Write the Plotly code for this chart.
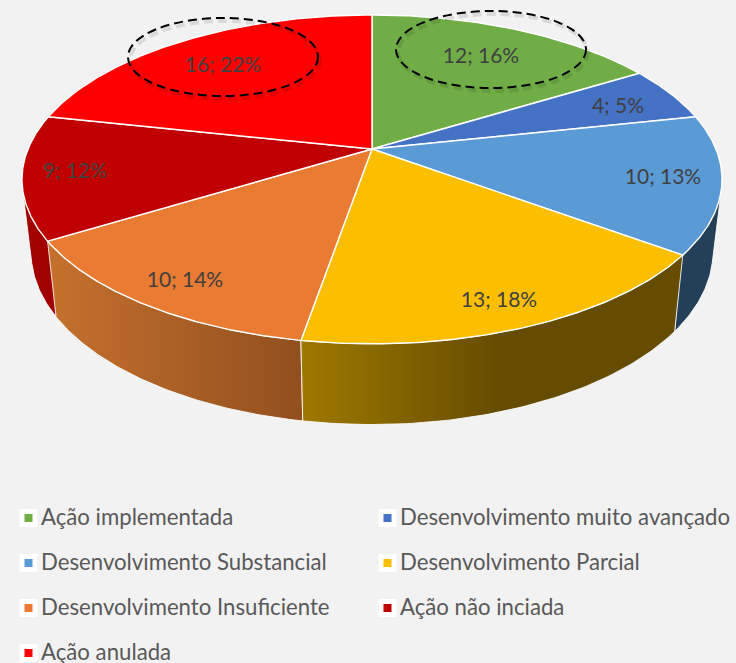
import numpy as np
import plotly.graph_objects as go

categories = ["Ação implementada", "Desenvolvimento muito avançado", "Desenvolvimento Substancial",
              "Desenvolvimento Parcial", "Desenvolvimento Insuficiente", "Ação não inciada", "Ação anulada"]
counts = [12, 4, 10, 13, 10, 9, 16]
percents = [16, 5, 13, 18, 14, 12, 22]
colors = ["#70AD47", "#4472C4", "#5B9BD5", "#FCBF00", "#EA7B32", "#C00000", "#FF0000"]
wall_left = ["#70AD47", "#4472C4", "#234058", "#9E7900", "#C6712D", "#A00000", "#FF0000"]
wall_right = ["#70AD47", "#4472C4", "#234058", "#664C00", "#914F1F", "#A00000", "#FF0000"]
label_pos = [(481, 56), (618, 106), (663, 177), (499, 300), (185, 280), (75, 171), (223, 65)]
legend_pos = [(28.5, 518), (387.5, 518), (28.5, 563), (387.5, 563), (28.5, 608), (387.5, 608), (28.5, 653)]
BG = "#F2F2F2"
FONT = "Lato"
TEXT_DY = 1.5

CX, CY = 372.0, 149.0
SX, SY, K = 344.0, 158.8, 0.185


def top_rim(t):
    X, Y = np.sin(t), np.cos(t)
    d = 1 + K * Y
    return CX + SX * X / d, CY - SY * Y / d


def bottom_rim(t):
    x, y = top_rim(t)
    return CX + 0.974 * (x - CX), 1.05 * y + 63.5


def hull(xs, ys):
    pts = sorted(set(zip(xs.tolist(), ys.tolist())))

    def half(points):
        out = []
        for p in points:
            while len(out) > 1 and ((out[-1][0] - out[-2][0]) * (p[1] - out[-2][1])
                                    - (out[-1][1] - out[-2][1]) * (p[0] - out[-2][0])) <= 0:
                out.pop()
            out.append(p)
        return out[:-1]

    ring = half(pts) + half(pts[::-1])
    ring.append(ring[0])
    return np.array([p[0] for p in ring]), np.array([p[1] for p in ring])


cum = np.concatenate([[0], np.cumsum(counts)]) / np.sum(counts) * 2 * np.pi
fig = go.Figure()

# side walls
for i in [0, 1, 6, 5, 2, 4, 3]:
    t = np.linspace(cum[i], cum[i + 1], 80)
    xt, yt = top_rim(t)
    xb, yb = bottom_rim(t)
    if i in (2, 5):
        xs, ys = hull(np.concatenate([xt, xb]), np.concatenate([yt, yb]))
    else:
        xs = np.concatenate([xt, xb[::-1], xt[:1]])
        ys = np.concatenate([yt, yb[::-1], yt[:1]])
    kw = dict(fillcolor=wall_left[i])
    if wall_left[i] != wall_right[i]:
        start = xs.min()
        stop = xs.max() if i == 4 else 500
        kw = dict(fillgradient=dict(type="horizontal", start=start, stop=stop,
                                    colorscale=[[0, wall_left[i]], [1, wall_right[i]]]))
    fig.add_trace(go.Scatter(x=xs, y=ys, mode="lines", fill="toself",
                             line=dict(color="rgba(255,255,255,0.85)", width=1),
                             hoverinfo="skip", showlegend=False, **kw))

# top faces
for i in range(len(counts)):
    t = np.linspace(cum[i], cum[i + 1], 120)
    xt, yt = top_rim(t)
    fig.add_trace(go.Scatter(x=np.concatenate([[CX], xt, [CX]]), y=np.concatenate([[CY], yt, [CY]]),
                             mode="lines", fill="toself", fillcolor=colors[i],
                             line=dict(color="white", width=1.4),
                             name=categories[i], showlegend=False, hoverinfo="name"))

# data labels
fig.add_trace(go.Scatter(x=[p[0] for p in label_pos], y=[p[1] + TEXT_DY for p in label_pos], mode="text",
                         text=[f"{c}; {p}%" for c, p in zip(counts, percents)],
                         textposition="middle center",
                         textfont=dict(family=FONT, size=21, color="#404040"),
                         hoverinfo="skip", showlegend=False))

# legend
fig.add_trace(go.Scatter(x=[p[0] for p in legend_pos], y=[p[1] for p in legend_pos], mode="markers",
                         marker=dict(symbol="square", size=18, color="white", line=dict(width=0)),
                         hoverinfo="skip", showlegend=False))
fig.add_trace(go.Scatter(x=[p[0] for p in legend_pos], y=[p[1] for p in legend_pos], mode="markers",
                         marker=dict(symbol="square", size=8, color=colors, line=dict(width=0)),
                         hoverinfo="skip", showlegend=False))
fig.add_trace(go.Scatter(x=[p[0] + 12.5 for p in legend_pos], y=[p[1] + TEXT_DY for p in legend_pos], mode="text",
                         text=categories, textposition="middle right",
                         textfont=dict(family=FONT, size=22.2, color="#595959"),
                         hoverinfo="skip", showlegend=False))

# dashed call-out ellipses
shapes = []
for cx, cy, a, b in [(223, 57, 95, 39), (491, 49.5, 95, 38.5)]:
    shapes.append(dict(type="circle", xref="x", yref="y", x0=cx - a + 2, x1=cx + a + 2, y0=cy - b + 3, y1=cy + b + 3,
                       line=dict(color="rgba(0,0,0,0.10)", width=4, dash="9px,5px"), layer="above"))
    shapes.append(dict(type="circle", xref="x", yref="y", x0=cx - a, x1=cx + a, y0=cy - b, y1=cy + b,
                       line=dict(color="black", width=2, dash="9px,5px"), layer="above"))

fig.update_layout(width=736, height=663, margin=dict(l=0, r=0, t=0, b=0, pad=0),
                  paper_bgcolor=BG, plot_bgcolor=BG, shapes=shapes, showlegend=False,
                  xaxis=dict(range=[0, 736], visible=False, fixedrange=True),
                  yaxis=dict(range=[663, 0], visible=False, fixedrange=True))
fig.write_html("out.html", config=dict(displayModeBar=False),
               post_script="document.body.style.margin='0';document.body.style.overflow='hidden';")
